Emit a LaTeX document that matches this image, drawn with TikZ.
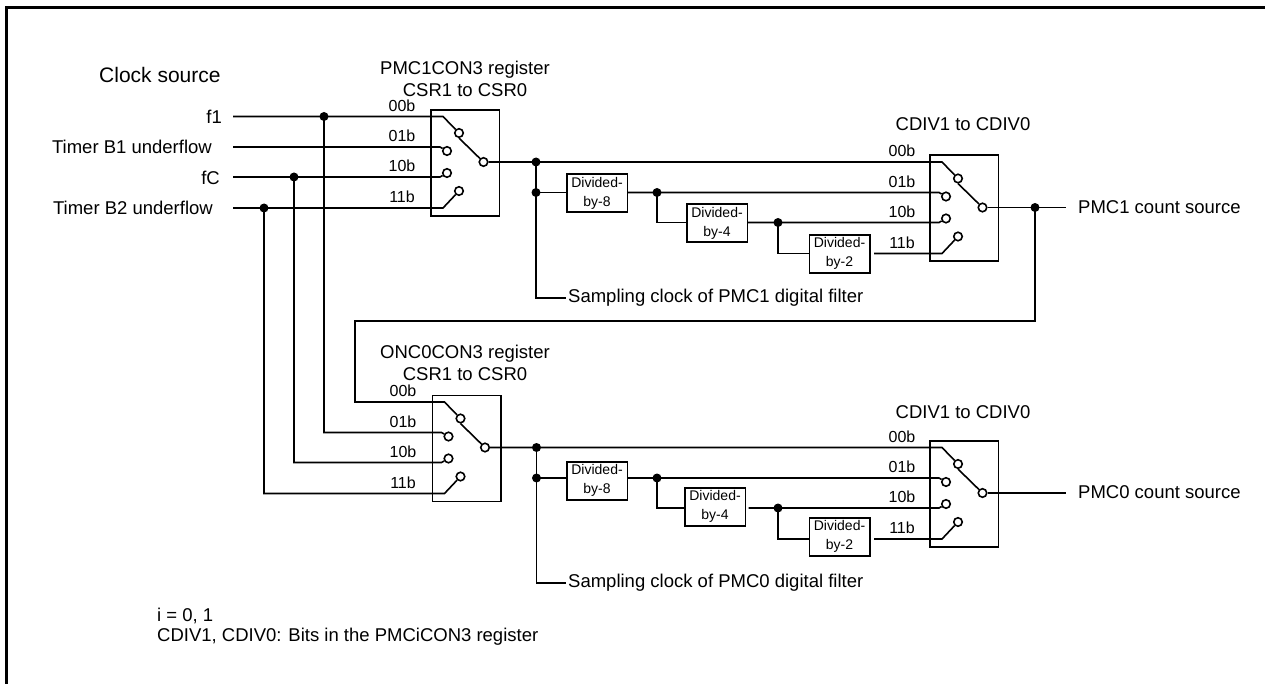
\documentclass[tikz,border=0pt]{standalone}
\usepackage{fontspec}
\setmainfont{Liberation Sans}
\newcommand{\swblock}[3]{%
  \node[swbox] (#1) at (#2,#3) {};
  \node[contact] (#1a) at ({#2+29},{#3+24}) {};
  \node[contact] (#1b) at ({#2+17},{#3+42}) {};
  \node[contact] (#1c) at ({#2+17},{#3+64}) {};
  \node[contact] (#1d) at ({#2+29},{#3+82}) {};
  \node[contact] (#1o) at ({#2+53.5},{#3+53}) {};
  \coordinate (#1ak) at ({#2+13},{#3+7.5});
  \coordinate (#1bk) at ({#2+10},{#3+38});
  \coordinate (#1ck) at ({#2+10},{#3+68});
  \coordinate (#1dk) at ({#2+13},{#3+99});
  \draw[wire] (#1a.south) -- (#1o);
}
\newcommand{\bitlabels}[2]{%
  \node[lab] (l#1a) at (#1,{#2-11}) {00b};
  \node[lab] (l#1b) at (#1,{#2+19.5}) {01b};
  \node[lab] (l#1c) at (#1,{#2+49.5}) {10b};
  \node[lab] (l#1d) at (#1,{#2+80.5}) {11b};
}
\begin{document}
\begin{tikzpicture}[x=1pt,y=-1pt,
  wire/.style={line width=1.6pt,black},
  swbox/.style={draw,line width=1.6pt,anchor=north west,minimum width=68.5pt,minimum height=106pt,inner sep=0pt},
  contact/.style={circle,draw,fill=white,line width=1.6pt,minimum size=8.5pt,inner sep=0pt},
  divbox/.style={draw,line width=1.6pt,anchor=north west,minimum width=60.5pt,minimum height=38pt,inner sep=0pt,align=center,font=\fontsize{14}{19}\selectfont},
  txt/.style={inner sep=0pt,font=\fontsize{18.5}{21.5}\selectfont},
  lab/.style={inner sep=0pt,font=\fontsize{16}{18}\selectfont},
  note/.style={txt,anchor=west},
  jn/.style={circle,fill=black,minimum size=9pt,inner sep=0pt}]
\useasboundingbox (0,0) rectangle (1265,684);
\fill[white] (0,0) rectangle (1265,684);
\draw[line width=3pt,line cap=butt] (6.5,684) -- (6.5,7.5) -- (1265,7.5);

% text
\node[txt,anchor=west,font=\fontsize{21}{24}\selectfont] (title) at (99,75) {Clock source};
\node[txt,anchor=east] (f1) at (222,117) {f1};
\node[txt,anchor=east] (tb1) at (212,147) {Timer B1 underflow};
\node[txt,anchor=east] (fc) at (220,178) {fC};
\node[txt,anchor=east] (tb2) at (213,208) {Timer B2 underflow};
\node[txt,align=center] (r1) at (465,79) {PMC1CON3 register\\CSR1 to CSR0};
\node[txt,align=center] (r2) at (465,363) {ONC0CON3 register\\CSR1 to CSR0};
\node[txt] (c1) at (963,124) {CDIV1 to CDIV0};
\node[txt] (c2) at (963,412) {CDIV1 to CDIV0};
\node[txt,anchor=west] (pmc1) at (1078,207.5) {PMC1 count source};
\node[txt,anchor=west] (pmc0) at (1078,492.5) {PMC0 count source};
\node[txt,anchor=west] (s1) at (568,298) {Sampling clock of PMC1 digital filter};
\node[txt,anchor=west] (s0) at (568,583) {Sampling clock of PMC0 digital filter};
\node[note] (n1) at (157,615.5) {i = 0, 1};
\node[note] (n2) at (157,637) {CDIV1, CDIV0: Bits in the PMCiCON3 register};

\bitlabels{402}{116.5}
\bitlabels{403}{402}
\bitlabels{902}{162}
\bitlabels{902}{447.5}

% input starts
\coordinate (f1s) at (233,116.5);
\coordinate (tb1s) at (233,147);
\coordinate (fcs) at (233,177);
\coordinate (tb2s) at (233,208);

% switches
\swblock{A}{430}{109}
\swblock{B}{929}{154.5}
\swblock{C}{431.5}{394.5}
\swblock{D}{929}{440}

% junctions
\node[jn] (j1) at (324,116.5) {};
\node[jn] (j2) at (294,177) {};
\node[jn] (j3) at (264,208) {};

\node[jn] (a1) at (536,162) {};
\node[jn] (a2) at (536,192.5) {};
\node[jn] (a3) at (657,192.5) {};
\node[jn] (a4) at (778,222.5) {};
\node[jn] (out1) at (1035,207.5) {};
\node[jn] (b1) at (536.5,447.5) {};
\node[jn] (b2) at (536.5,478) {};
\node[jn] (b3) at (657,478) {};
\node[jn] (b4) at (778,508) {};

% dividers
\node[divbox] (d8a) at (566,173.5) {Divided-\\by-8};
\node[divbox] (d4a) at (686,203.5) {Divided-\\by-4};
\node[divbox] (d2a) at (808.5,234) {Divided-\\by-2};
\node[divbox] (d8b) at (566,461) {Divided-\\by-8};
\node[divbox] (d4b) at (684,487) {Divided-\\by-4};
\node[divbox] (d2b) at (808.5,517) {Divided-\\by-2};

% free ends
\coordinate (sa) at (566,298);
\coordinate (sb) at (566,583);
\coordinate (pa) at (1066,207.5);
\coordinate (pb) at (1066,493);

% input wires
\draw[wire] (f1s) -- (j1.center) -- (Aak) -- (Aa);
\draw[wire] (tb1s) -- (Abk) -- (Ab);
\draw[wire] (fcs) -- (j2.center) -- (Ack) -- (Ac);
\draw[wire] (tb2s) -- (j3.center) -- (Adk) -- (Ad);
\draw[wire] (j1.center) |- (Cbk) -- (Cb);
\draw[wire] (j2.center) |- (Cck) -- (Cc);
\draw[wire] (j3.center) |- (Cdk) -- (Cd);
\draw[wire] (out1.center) |- (355,321) |- (Cak) -- (Ca);

% upper chain
\draw[wire] (Ao) -- (a1.center) -- (Bak) -- (Ba);
\draw[wire] (a1.center) -- (a2.center) |- (sa);
\draw[wire] (a2.center) -- (a2 -| d8a.west);
\draw[wire] (a3 -| d8a.east) -- (a3.center) -- (Bbk) -- (Bb);
\draw[wire] (a3.center) |- (d4a.west |- a4);
\draw[wire] (a4 -| d4a.east) -- (a4.center) -- (Bck) -- (Bc);
\draw[wire] (a4.center) |- (d2a.west |- Bdk);
\draw[wire,shorten <=3.5pt] (Bdk -| d2a.east) -- (Bdk) -- (Bd);
\draw[wire] (Bo) -- (out1.center) -- (pa);

% lower chain
\draw[wire] (Co) -- (b1.center) -- (Dak) -- (Da);
\draw[wire] (b1.center) -- (b2.center) |- (sb);
\draw[wire] (b2.center) -- (b2 -| d8b.west);
\draw[wire] (b3 -| d8b.east) -- (b3.center) -- (Dbk) -- (Db);
\draw[wire] (b3.center) |- (d4b.west |- b4);
\draw[wire,shorten <=2.5pt] (b4 -| d4b.east) -- (b4.center) -- (Dck) -- (Dc);
\draw[wire] (b4.center) |- (d2b.west |- Ddk);
\draw[wire,shorten <=3.5pt] (Ddk -| d2b.east) -- (Ddk) -- (Dd);
\draw[wire] (Do) -- (pb);
\end{tikzpicture}
\end{document}
